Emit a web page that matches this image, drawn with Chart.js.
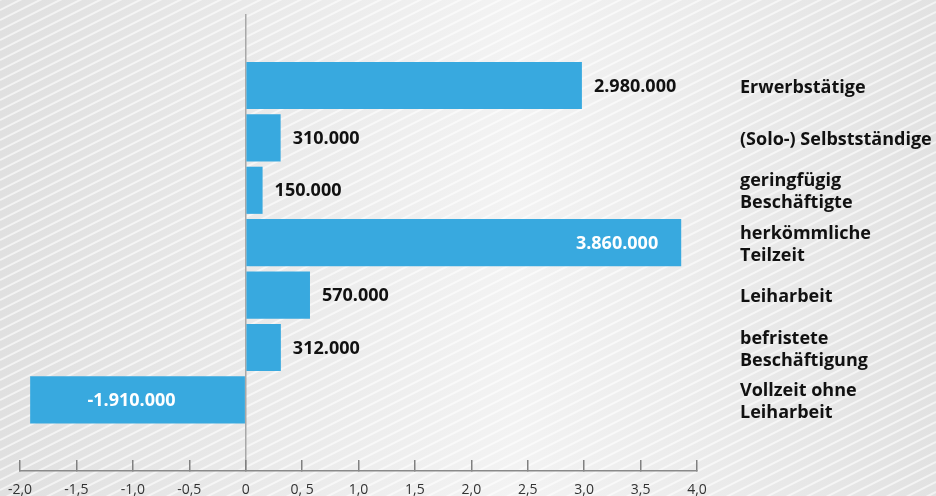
<!DOCTYPE html>
<html>
<head>
<meta charset="utf-8">
<script src="https://cdn.jsdelivr.net/npm/chart.js@4"></script>
<style>
  body { margin: 0; }
  #wrap { width: 936px; height: 496px; }
</style>
</head>
<body>
<div id="wrap"><canvas id="myChart"></canvas></div>
<script>
const categories = [
    ['Erwerbstätige'],
    ['(Solo-) Selbstständige'],
    ['geringfügig', 'Beschäftigte'],
    ['herkömmliche', 'Teilzeit'],
    ['Leiharbeit'],
    ['befristete', 'Beschäftigung'],
    ['Vollzeit ohne', 'Leiharbeit']
];
// Veränderung in Millionen
const values = [2.98, 0.31, 0.15, 3.86, 0.57, 0.312, -1.91];
const xTickLabels = ['-2,0', '-1,5', '-1,0', '-0,5', '0', '0, 5', '1,0', '1,5', '2,0', '2,5', '3,0', '3,5', '4,0'];

const FONT = '"Open Sans", "DejaVu Sans", sans-serif';

const background = {
    id: 'background',
    beforeDraw(chart) {
        const c = chart.ctx, w = chart.width, h = chart.height;
        c.save();
        const g = c.createLinearGradient(0, 0, w, 0);
        g.addColorStop(0, '#e0e0e0');
        g.addColorStop(0.55, '#f3f3f3');
        g.addColorStop(1, '#e2e2e2');
        c.fillStyle = g;
        c.fillRect(0, 0, w, h);
        c.strokeStyle = 'rgba(255,255,255,0.6)';
        c.lineWidth = 2;
        for (let k = 0; k < h + w * 0.5 + 20; k += 10) {
            c.beginPath();
            c.moveTo(0, k);
            c.lineTo(w, k - w * 0.5);
            c.stroke();
        }
        c.restore();
    }
};

// values at the bars and category names on the right
const labels = {
    id: 'labels',
    afterDatasetsDraw(chart) {
        const c = chart.ctx;
        const area = chart.chartArea;
        const yScale = chart.scales.y;
        const meta = chart.getDatasetMeta(0);
        c.save();
        c.font = 'bold 18px ' + FONT;
        c.textBaseline = 'middle';
        meta.data.forEach((bar, i) => {
            const v = values[i];
            const txt = Math.round(v * 1e6).toLocaleString('de-DE');
            const tw = c.measureText(txt).width;
            if (v < 0) {
                c.fillStyle = '#ffffff';
                c.textAlign = 'center';
                c.fillText(txt, (bar.x + bar.base) / 2 - 6, bar.y + 1);
            } else if (bar.x + 12 + tw > area.right) {
                c.fillStyle = '#ffffff';
                c.textAlign = 'right';
                c.fillText(txt, bar.x - 23, bar.y + 1);
            } else {
                c.fillStyle = '#111111';
                c.textAlign = 'left';
                c.fillText(txt, bar.x + 12, bar.y + 1);
            }
        });
        c.fillStyle = '#111111';
        c.textAlign = 'left';
        categories.forEach((lines, i) => {
            const yc = yScale.getPixelForValue(i);
            const lh = 22;
            lines.forEach((ln, j) => {
                c.fillText(ln, area.right + 43, yc + 2 + (j - (lines.length - 1) / 2) * lh);
            });
        });
        c.restore();
    }
};

new Chart(document.getElementById('myChart'), {
    type: 'bar',
    data: {
        datasets: [{
            data: values.map((v, i) => ({ x: v, y: i })),
            backgroundColor: '#38a9df',
            borderWidth: 0,
            barPercentage: 0.9,
            categoryPercentage: 1.0
        }]
    },
    options: {
        indexAxis: 'y',
        responsive: true,
        maintainAspectRatio: false,
        animation: false,
        layout: { padding: { left: 20, top: 14, right: 239, bottom: 0 } },
        scales: {
            x: {
                min: -2,
                max: 4,
                afterFit: scale => {
                    scale.height = 25;
                    scale.paddingLeft = 0;
                    scale.paddingRight = 0;
                },
                ticks: {
                    stepSize: 0.5,
                    padding: 22,
                    color: '#333333',
                    font: { family: FONT, size: 14 },
                    maxRotation: 0,
                    autoSkip: false,
                    callback: (val, idx) => xTickLabels[idx]
                },
                grid: {
                    drawOnChartArea: true,
                    color: ctx => (ctx.tick && ctx.tick.value === 0) ? '#a8a8a8' : 'rgba(0,0,0,0)',
                    lineWidth: 1.5,
                    tickColor: '#808080',
                    tickWidth: 1.5,
                    tickLength: -11
                },
                border: { display: true, color: '#8a8a8a', width: 1.5 }
            },
            y: {
                type: 'linear',
                display: false,
                offset: false,
                reverse: true,
                min: -1.364,
                max: 7.357,
                afterBuildTicks: scale => {
                    scale.ticks = categories.map((c, i) => ({ value: i }));
                }
            }
        },
        plugins: {
            legend: { display: false },
            tooltip: { enabled: false }
        }
    },
    plugins: [background, labels]
});
</script>
</body>
</html>
